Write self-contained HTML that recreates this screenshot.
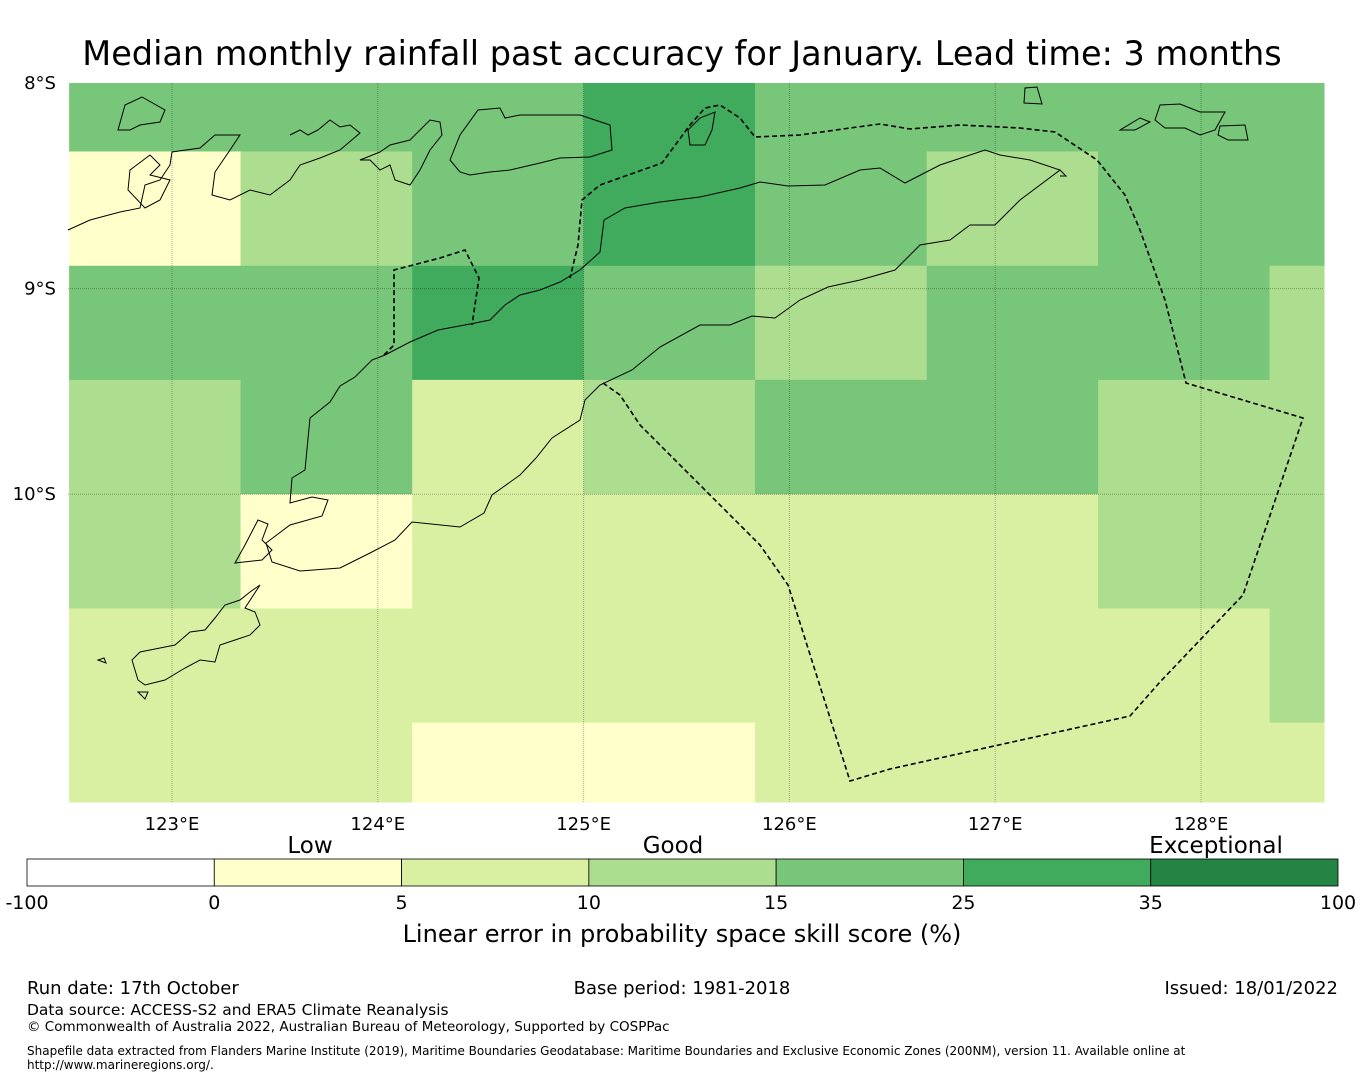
<!DOCTYPE html>
<html><head><meta charset="utf-8"><style>
body{margin:0;background:#fff;width:1365px;height:1080px;overflow:hidden;font-family:"DejaVu Sans","Liberation Sans",sans-serif;}
svg{position:absolute;left:0;top:0}
</style></head><body>
<svg id="chart" width="1365" height="1080" xmlns="http://www.w3.org/2000/svg" font-family="DejaVu Sans, Liberation Sans, sans-serif">
<text x="682" y="65" font-size="33.5" text-anchor="middle">Median monthly rainfall past accuracy for January. Lead time: 3 months</text>
<g id="cells"></g>
<g id="grid"></g>
<g fill="none" stroke="#000" stroke-width="1">
<path d="M290,503 L292,478 L305,470 L310,418 L330,402 L340,386 L355,377 L372,360 L385,355 L410,342 L438,330 L470,324 L490,320 L505,305 L520,295 L540,290 L560,282 L580,270 L600,252 L604,220 L625,208 L660,202 L700,197 L740,188 L760,182 L788,186 L825,185 L860,170 L880,168 L905,183 L940,165 L985,150 L1000,155 L1030,160 L1060,170 L1020,200 L995,225 L970,225 L950,240 L920,245 L895,270 L860,280 L828,287 L800,300 L775,318 L752,316 L730,325 L700,325 L660,347 L632,370 L600,385 L585,400 L580,420 L552,438 L536,458 L520,475 L492,495 L484,513 L460,527 L412,522 L395,540 L370,553 L340,568 L300,571 L272,562 L266,543 L290,525 L322,516 L328,500 L312,497 Z"/>
<path d="M68,230 L90,220 L120,212 L140,208 L145,185 L160,180 L170,165 L172,152 L200,148 L215,135 L240,135 L230,150 L215,172 L212,195 L230,200 L250,190 L270,195 L290,180 L300,165 L320,158 L340,150 L360,133 L350,125 L340,127 L330,120 L318,130 L308,135 L300,130 L290,135"/>
<path d="M118,130 L125,105 L142,97 L165,110 L160,122 L140,125 L130,130 Z"/>
<path d="M150,175 L160,165 L150,155 L130,170 L128,190 L145,208 L160,200 L170,180 Z"/>
<path d="M360,160 L380,152 L390,145 L410,140 L420,130 L430,120 L440,122 L442,135 L430,150 L420,170 L410,185 L395,180 L390,165 L380,170 L370,160 Z"/>
<path d="M450,160 L460,135 L478,110 L500,108 L505,118 L520,115 L580,115 L610,125 L612,150 L590,157 L560,158 L540,163 L510,170 L490,172 L470,175 L460,172 Z"/>
<path d="M690,145 L688,130 L700,118 L715,112 L712,130 L705,145 Z"/>
<path d="M1120,130 L1140,118 L1150,122 L1135,130 Z"/>
<path d="M1155,120 L1160,105 L1180,104 L1200,112 L1225,112 L1215,130 L1200,135 L1185,128 L1165,128 Z"/>
<path d="M1218,135 L1220,126 L1245,125 L1248,140 L1228,140 Z"/>
<path d="M1024,103 L1025,88 L1037,87 L1042,104 Z"/>
<path d="M1060,170 L1066,176 L1060,176"/>
<path d="M260,585 L250,592 L240,600 L225,605 L215,618 L205,630 L190,632 L175,645 L160,648 L140,652 L132,660 L138,680 L145,685 L165,680 L185,668 L200,660 L215,662 L220,645 L235,640 L250,635 L260,625 L255,612 L245,608 Z"/>
<path d="M235,563 L245,545 L258,520 L268,524 L262,540 L272,550 L262,560 Z"/>
<path d="M138,692 L145,699 L148,692 Z"/>
<path d="M98,660 L106,663 L104,658 Z"/>
</g>
<g fill="none" stroke="#000" stroke-width="1.6" stroke-dasharray="5,3">
<polyline points="603,383 620,395 640,425 680,465 760,545 788,585 850,781 890,769 1130,716 1160,682 1200,640 1243,595 1303,418 1186,383 1165,300 1140,230 1125,195 1097,160 1055,132 1020,128 960,125 910,129 880,124 850,128 800,135 755,137 740,118 720,105 705,108 690,125 662,163 600,185 582,200 578,245 570,278"/>
<polyline points="384,355 394,345 394,270 440,258 465,250 479,278 472,325"/>
</g>
<g id="axes" font-size="18"></g>
<g id="cbar"></g>
<text x="310" y="853" font-size="23" text-anchor="middle">Low</text>
<text x="673" y="853" font-size="23" text-anchor="middle">Good</text>
<text x="1216" y="853" font-size="23" text-anchor="middle">Exceptional</text>
<text x="682" y="942" font-size="24" text-anchor="middle">Linear error in probability space skill score (%)</text>
<text x="27" y="994" font-size="18">Run date: 17th October</text>
<text x="682" y="994" font-size="18" text-anchor="middle">Base period: 1981-2018</text>
<text x="1338" y="994" font-size="18" text-anchor="end">Issued: 18/01/2022</text>
<text x="27" y="1015" font-size="15.5">Data source: ACCESS-S2 and ERA5 Climate Reanalysis</text>
<text x="27" y="1031" font-size="13.5">© Commonwealth of Australia 2022, Australian Bureau of Meteorology, Supported by COSPPac</text>
<text x="27" y="1055" font-size="12">Shapefile data extracted from Flanders Marine Institute (2019), Maritime Boundaries Geodatabase: Maritime Boundaries and Exclusive Economic Zones (200NM), version 11. Available online at</text>
<text x="27" y="1069" font-size="12">http://www.marineregions.org/.</text>
</svg>
<script>
const lonEdges = [122.5, 123.333, 124.167, 125.0, 125.833, 126.667, 127.5, 128.333, 128.6];
const latEdges = [-8.0, -8.333, -8.889, -9.444, -10.0, -10.556, -11.111, -11.5];
const skill = [
 [20,20,20,30,20,20,20,20],
 [2.5,12.5,20,30,20,12.5,20,20],
 [20,20,30,20,12.5,20,20,12.5],
 [12.5,20,7.5,12.5,20,20,12.5,12.5],
 [12.5,2.5,7.5,7.5,7.5,7.5,12.5,12.5],
 [7.5,7.5,7.5,7.5,7.5,7.5,7.5,12.5],
 [7.5,7.5,2.5,2.5,7.5,7.5,7.5,7.5]
];
const binEdges = [-100,0,5,10,15,25,35,100];
const binColors = ["#ffffff","#ffffcc","#d9f0a3","#addd8e","#78c679","#41ab5d","#238443"];
const lonTicks = [123,124,125,126,127,128];
const latTicks = [-8,-9,-10];
const latTickLabels = ["8°S","9°S","10°S"];

const X0=68, X1=1324, Y0=83, Y1=802;
function xs(lon){return 172 + (lon-123)*205.8;}
function ys(lat){return 83 + (-8-lat)*205.6;}
function color(v){for(let i=0;i<binColors.length;i++){if(v<binEdges[i+1])return binColors[i];}return binColors[binColors.length-1];}
const NS="http://www.w3.org/2000/svg";
function mk(t,a,p){const e=document.createElementNS(NS,t);for(const k in a)e.setAttribute(k,a[k]);p.appendChild(e);return e;}
const cells=document.getElementById('cells');
for(let r=0;r<skill.length;r++)for(let c=0;c<skill[r].length;c++){
 const x0=Math.max(X0,xs(lonEdges[c])), x1=Math.min(X1,xs(lonEdges[c+1]));
 const y0=Math.max(Y0,ys(latEdges[r])), y1=Math.min(Y1,ys(latEdges[r+1]));
 const e=mk('rect',{x:x0,y:y0,width:x1-x0+0.5,height:y1-y0+0.5,fill:color(skill[r][c])},cells);
 
 
}
const grid=document.getElementById('grid');
const axes=document.getElementById('axes');
lonTicks.forEach(l=>{
 const x=xs(l);
 mk('line',{x1:x,x2:x,y1:Y0,y2:Y1,stroke:'#000','stroke-opacity':0.3,'stroke-width':1,'stroke-dasharray':'1,1'},grid);
 const t=mk('text',{x:x,y:830,'text-anchor':'middle'},axes);
 t.textContent=l+'°E';
 
 
});
latTicks.forEach((l,i)=>{
 const y=ys(l);
 if(y>Y0+2) mk('line',{x1:X0,x2:X1,y1:y,y2:y,stroke:'#000','stroke-opacity':0.3,'stroke-width':1,'stroke-dasharray':'1,1'},grid);
 const t=mk('text',{x:56,y:y+6,'text-anchor':'end'},axes);
 t.textContent=latTickLabels[i];
 
 
});
const cb=document.getElementById('cbar');
const cbX0=27, cbX1=1338, cbY=859, cbH=27, segW=(cbX1-cbX0)/binColors.length;
binColors.forEach((c,i)=>{
 const e=mk('rect',{x:cbX0+i*segW,y:cbY,width:segW,height:cbH,fill:c,stroke:'#000','stroke-width':0.8},cb);
 
 
});
binEdges.forEach((v,i)=>{
 const t=mk('text',{x:cbX0+i*segW,y:909,'text-anchor':'middle','font-size':19},cb);
 t.textContent=v;
 
 
});
</script>
</body></html>
